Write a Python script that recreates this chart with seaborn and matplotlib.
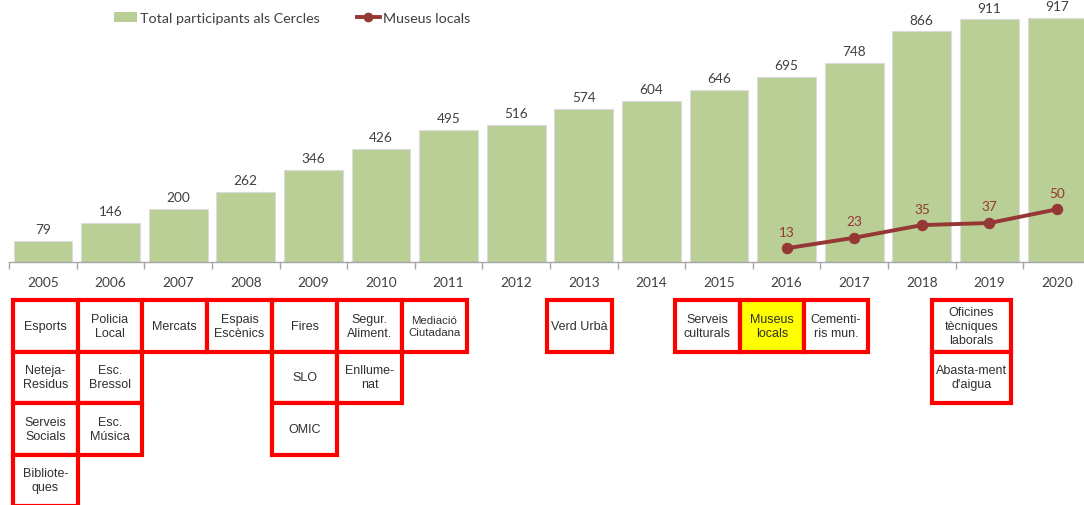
import numpy as np
import pandas as pd
import matplotlib
matplotlib.use('Agg')
import matplotlib.pyplot as plt
import seaborn as sns
from matplotlib.patches import Rectangle, Patch
from matplotlib.lines import Line2D

# data
years = [str(y) for y in range(2005, 2021)]
totals = [79, 146, 200, 262, 346, 426, 495, 516, 574, 604, 646, 695, 748, 866, 911, 917]
museum_years = ['2016', '2017', '2018', '2019', '2020']
museum_vals = [13, 23, 35, 37, 50]

# services joining each year (boxes under the axis)
box_years = ['2005', '2006', '2007', '2008', '2009', '2010', '2011', '2013', '2015', '2016', '2017', '2019']
box_labels = [
    ['Esports', 'Neteja-\nResidus', 'Serveis\nSocials', 'Bibliote-\nques'],
    ['Policia\nLocal', 'Esc.\nBressol', 'Esc.\nMúsica'],
    ['Mercats'],
    ['Espais\nEscènics'],
    ['Fires', 'SLO', 'OMIC'],
    ['Segur.\nAliment.', 'Enllume-\nnat'],
    ['Mediació\nCiutadana'],
    ['Verd Urbà'],
    ['Serveis\nculturals'],
    ['Museus\nlocals'],
    ['Cementi-\nris mun.'],
    ['Oficines\ntècniques\nlaborals', 'Abasta-ment\nd\'aigua'],
]
highlight = 'Museus\nlocals'

# box column edges in pixels (hand-placed in the original)
box_left = [13, 78, 142, 207, 272, 337, 402, 547, 675, 740, 804, 932]
box_right = [78, 142, 207, 272, 337, 402, 467, 612, 740, 804, 868, 1011]
row_top = [301, 352.5, 404, 455.5]
row_h = 51.5

W, H = 1084, 506
bar_color = '#B9CF96'
line_color = '#953735'
text_color = '#404040'

df = pd.DataFrame({'year': years, 'total': totals})

fig = plt.figure(figsize=(W / 100, H / 100), dpi=100)
ax = fig.add_axes([9.2 / W, (H - 263) / H, 1081.6 / W, 263 / H])

sns.barplot(data=df, x='year', y='total', color=bar_color, width=0.87,
            edgecolor='#DCDCDC', linewidth=0.8, saturation=1, ax=ax)
ax.set_ylim(0, 988)
ax.set_xlim(-0.5, 15.5)
for i, v in enumerate(totals):
    ax.text(i, v + 22, str(v), ha='center', va='bottom', fontsize=9.8,
            color=text_color, family='Lato')

ax2 = ax.twinx()
xpos = [years.index(y) for y in museum_years]
sns.lineplot(x=xpos, y=museum_vals, ax=ax2, color=line_color, linewidth=2.8,
             marker='o', markersize=7.5, markeredgecolor=line_color)
ax2.set_ylim(0, 249.5)
for x, v in zip(xpos, museum_vals):
    ax2.text(x, v + 10, str(v), ha='center', va='bottom', fontsize=9.8,
             color=line_color, family='Lato')

for a in (ax, ax2):
    a.set_xlabel('')
    a.set_ylabel('')
    a.set_yticks([])
    for s in ['top', 'right', 'left']:
        a.spines[s].set_visible(False)
ax2.spines['bottom'].set_visible(False)
ax.spines['bottom'].set_color('#A6A6A6')
ax.spines['bottom'].set_linewidth(1)

ax.set_xticks(np.arange(16))
ax.set_xticklabels(years, fontsize=9.8, color=text_color, family='Lato')
ax.tick_params(axis='x', length=0, pad=10)
ax.set_xticks(np.arange(-0.5, 16, 1), minor=True)
ax.tick_params(axis='x', which='minor', length=5, color='#A6A6A6', width=1)

# legend
handles = [Patch(facecolor=bar_color, edgecolor='none'),
           Line2D([0], [0], color=line_color, linewidth=2.8, marker='o', markersize=6)]
fig.legend(handles, ['Total participants als Cercles', 'Museus locals'],
           loc='center', bbox_to_anchor=(292 / W, 1 - 19 / H), ncol=2, frameon=False,
           prop={'family': 'Lato', 'size': 10.3}, labelcolor=text_color,
           handlelength=1.6, handletextpad=0.2, columnspacing=2.6)

# boxes under the axis
for yr, labels, x0, x1 in zip(box_years, box_labels, box_left, box_right):
    for r, lab in enumerate(labels):
        top = row_top[r]
        face = '#FFFF00' if lab == highlight else 'white'
        rect = Rectangle((x0 / W, 1 - (top + row_h) / H), (x1 - x0) / W, row_h / H,
                         transform=fig.transFigure, facecolor=face, edgecolor='#FF0000',
                         linewidth=3.0, zorder=3)
        fig.add_artist(rect)
        fs = 8.2 if lab.startswith('Mediació') else 9.0
        fig.text((x0 + x1) / 2 / W, 1 - (top + row_h / 2) / H, lab, ha='center', va='center',
                 fontsize=fs, color='#303030', family='Liberation Sans',
                 linespacing=1.25, zorder=4)

fig.savefig('out.png', dpi=100)
